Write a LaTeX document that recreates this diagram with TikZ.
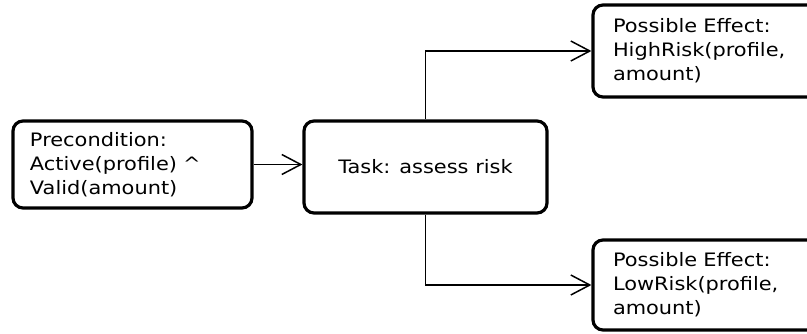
\documentclass[tikz,border=0pt]{standalone}
\usepackage{fontspec}
\setmainfont[FakeStretch=1.13]{DejaVu Sans}
\usetikzlibrary{arrows.meta}
\begin{document}
\begin{tikzpicture}[x=1pt,y=-1pt,
  box/.style={draw=black, line width=3.2pt, rounded corners=10pt, inner sep=0pt,
    font=\fontsize{18.5}{24}\selectfont},
  leftbox/.style={box, align=left},
  conn/.style={line width=1.5pt, -{Straight Barb[length=19pt,width=20pt,line width=1.5pt]}}
]
\useasboundingbox (0,0) rectangle (807,334);
\node[leftbox, minimum width=239pt, minimum height=87pt, text width=205pt] (pre) at (132.5,164.5)
  {Precondition:\\Active(profile) \^{}\\Valid(amount)};
\node[box, minimum width=243pt, minimum height=92pt] (task) at (425.5,167) {Task: assess risk};
\node[leftbox, minimum width=227pt, minimum height=92pt, text width=187pt] (high) at (706.5,51)
  {Possible Effect:\\HighRisk(profile,\\amount)};
\node[leftbox, minimum width=227pt, minimum height=90pt, text width=187pt] (low) at (706.5,285)
  {Possible Effect:\\LowRisk(profile,\\amount)};
\draw[conn] (pre.east) -- (pre.east -| task.west);
\draw[conn] (task.north) |- (high.west);
\draw[conn] (task.south) |- (low.west);
\end{tikzpicture}
\end{document}
